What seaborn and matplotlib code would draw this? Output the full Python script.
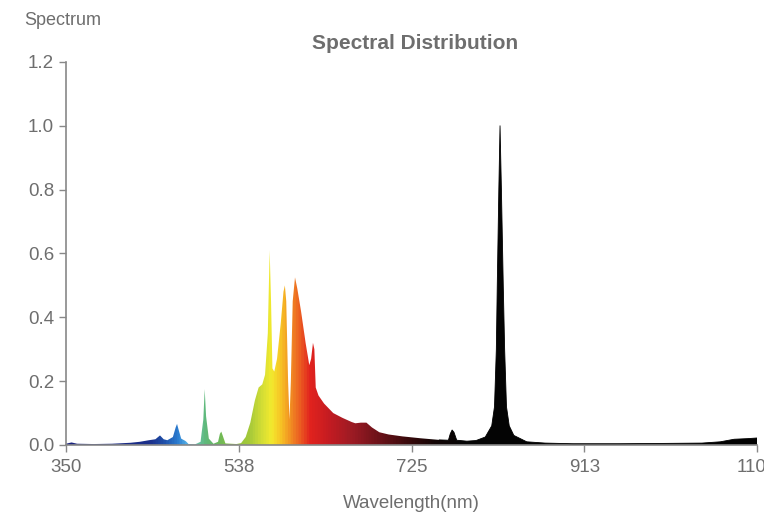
import numpy as np
import matplotlib
matplotlib.use("Agg")
from matplotlib import pyplot as plt
from matplotlib.colors import LinearSegmentedColormap
import seaborn as sns

# spectrum (nm, relative intensity)
wavelength = [350, 356, 362, 380, 400, 420, 430, 440, 447, 452, 456, 460, 466, 469, 470.5, 472, 475,
              480, 483, 490, 496, 499, 500.5, 502, 505, 510, 515, 517, 518.5, 520, 523, 535, 540,
              545, 550, 555, 559, 563, 566, 569, 571, 572.5, 574, 576, 579, 583, 586, 587.5, 589,
              591, 592.5, 594, 596, 598.5, 601, 605, 610, 614, 616, 618, 619.5, 621, 624, 630, 640,
              650, 660, 664, 670, 676, 682, 690, 700, 715, 735, 755, 765, 767, 769, 771, 774, 785,
              795, 805, 812, 815, 817, 818, 819.7, 821, 822.5, 824.5, 826, 828, 831, 836, 850, 870,
              900, 950, 1000, 1040, 1060, 1075, 1090, 1100]
intensity = [0.004, 0.008, 0.004, 0.003, 0.004, 0.007, 0.010, 0.015, 0.018, 0.030, 0.018, 0.015, 0.025,
             0.055, 0.066, 0.050, 0.020, 0.012, 0.003, 0.002, 0.010, 0.080, 0.175, 0.090, 0.020,
             0.004, 0.010, 0.035, 0.042, 0.030, 0.005, 0.003, 0.006, 0.025, 0.070, 0.140, 0.180,
             0.190, 0.220, 0.350, 0.610, 0.450, 0.240, 0.230, 0.270, 0.380, 0.480, 0.500, 0.450,
             0.200, 0.080, 0.200, 0.450, 0.525, 0.490, 0.420, 0.320, 0.250, 0.270, 0.320, 0.300,
             0.180, 0.155, 0.130, 0.100, 0.085, 0.072, 0.068, 0.070, 0.070, 0.055, 0.040, 0.033,
             0.027, 0.021, 0.016, 0.015, 0.035, 0.047, 0.040, 0.015, 0.012, 0.014, 0.025, 0.060,
             0.120, 0.300, 0.500, 0.800, 1.000, 0.800, 0.500, 0.300, 0.120, 0.060, 0.030, 0.010,
             0.006, 0.004, 0.004, 0.005, 0.006, 0.010, 0.018, 0.020, 0.022]

xticks = [350, 537.5, 725, 912.5, 1100]
xtick_labels = ["350", "538", "725", "913", "1100"]
yticks = [0.0, 0.2, 0.4, 0.6, 0.8, 1.0, 1.2]

# colour of the fill along the wavelength axis
color_stops = [(350, "#1a237e"), (440, "#1b2f8a"), (455, "#1f4fa8"), (470, "#2b7cd0"),
               (482, "#5ab8e8"), (490, "#6cc4b0"), (500, "#5fb97c"), (515, "#6db85a"),
               (530, "#8cc33f"), (548, "#a5c93a"), (562, "#d4de35"), (572, "#f3ea2e"),
               (582, "#f7c425"), (592, "#f29222"), (602, "#ec6222"), (614, "#e2231e"),
               (635, "#c41c22"), (660, "#9c1b24"), (690, "#6a1219"), (720, "#3a0a0c"),
               (750, "#120404"), (780, "#050505"), (1100, "#000000")]

sns.set_theme(style="white")
plt.rcParams['font.family'] = ['Liberation Sans', 'DejaVu Sans']
gray = "#6e6e6e"

fig = plt.figure(figsize=(7.64, 5.16), dpi=100)
ax = fig.add_axes([0.0864, 0.1376, 0.9046, 0.7424])

cmap = LinearSegmentedColormap.from_list(
    "spec", [((w - 350) / 750, c) for w, c in color_stops])

poly = ax.fill_between(wavelength, intensity, 0, facecolor="none", edgecolor="none")
grad = np.linspace(350, 1100, 1500).reshape(1, -1)
im = ax.imshow(grad, extent=[350, 1100, 0, 1.2], aspect="auto", cmap=cmap,
               vmin=350, vmax=1100, origin="lower", zorder=2)
im.set_clip_path(poly.get_paths()[0], transform=ax.transData)

# thin outline over the near-infrared part
ir = [i for i, w in enumerate(wavelength) if w >= 740]
sns.lineplot(x=[wavelength[i] for i in ir], y=[intensity[i] for i in ir],
             color="black", linewidth=0.6, ax=ax, zorder=3)

ax.set_xlim(350, 1100)
ax.set_ylim(0, 1.2)
ax.set_xticks(xticks)
ax.set_xticklabels(xtick_labels)
ax.set_yticks(yticks)
ax.set_yticklabels([f"{v:.1f}" for v in yticks])
ax.tick_params(axis="both", direction="out", length=5, width=1, color="#888888",
               labelcolor=gray, labelsize=13.5, bottom=True, left=True)
ax.tick_params(axis="x", pad=5)
sns.despine(ax=ax)
for s in ["left", "bottom"]:
    ax.spines[s].set_color("#888888")
    ax.spines[s].set_linewidth(1.2)

ax.set_xlabel("Wavelength(nm)", color=gray, fontsize=13.5, labelpad=14)
fig.text(0.543, 0.915, "Spectral Distribution", ha="center", va="center",
         color=gray, fontsize=15, fontweight="bold")
fig.text(0.032, 0.961, "Spectrum", ha="left", va="center", color=gray, fontsize=13)

fig.savefig("out.png", dpi=100)
